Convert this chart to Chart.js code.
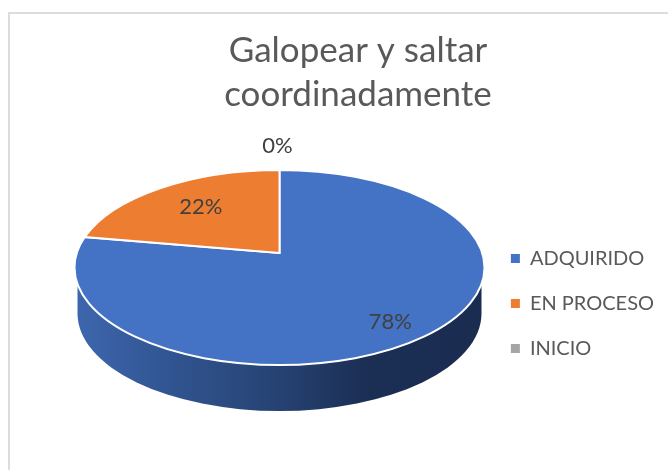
<!DOCTYPE html>
<html><head><meta charset="utf-8">
<script src="https://cdn.jsdelivr.net/npm/chart.js@4"></script>
<style>
html,body{margin:0;padding:0;background:#fff;overflow:hidden}
#wrap{position:relative;width:668px;height:470px}
#frame{position:absolute;left:8px;top:12px;right:0;bottom:0;border-left:2px solid #dcdcdc;border-top:2px solid #dcdcdc}
canvas{position:absolute;left:0;top:0}
</style></head><body>
<div id="wrap"><div id="frame"></div><canvas id="c" width="668" height="470"></canvas></div>
<script>
const categories = ["ADQUIRIDO", "EN PROCESO", "INICIO"];
const values = [78, 22, 0];
const sliceColors = ["#4472C4", "#ED7D31", "#A5A5A5"];
const titleLines = ["Galopear y saltar", "coordinadamente"];

// Picture geometry of the tilted disc (layout only)
const DISC = {cx:279.5, cy:267.5, rx:205, ry:97.5, apexY:253, depth:46, baseRx:202, kTop:0.43, kBottom:0.55};
// Where each percentage label sits, relative to the apex in units of rx
const LABEL_AT = [[0.54,0.335],[-0.384,-0.225],[-0.01,-0.52]];

function rimAngle(a){
  const d = DISC, c = Math.cos(a), s = Math.sin(a);
  const dx = c, dy = s * (s < 0 ? d.kTop : d.kBottom);
  const oy = d.apexY - d.cy;
  const A = dx*dx/(d.rx*d.rx) + dy*dy/(d.ry*d.ry);
  const B = 2*oy*dy/(d.ry*d.ry);
  const C = oy*oy/(d.ry*d.ry) - 1;
  const u = (-B + Math.sqrt(B*B - 4*A*C)) / (2*A);
  return Math.atan2((oy + u*dy)/d.ry, u*dx/d.rx);
}

const tiltedPie = {
  id:'tiltedPie',
  afterLayout(chart){
    // Legend sits lower than the default centring, beside the disc
    chart.legend.top += 54;
    chart.legend.bottom += 54;
  },
  beforeDatasetDraw(chart, args){
    const ctx = chart.ctx, d = DISC;
    ctx.save();
    const g = ctx.createLinearGradient(d.cx-d.baseRx,0,d.cx+d.baseRx,0);
    g.addColorStop(0,'#3D66AD');
    g.addColorStop(0.25,'#30538F');
    g.addColorStop(0.5,'#264272');
    g.addColorStop(0.72,'#1B2E54');
    g.addColorStop(1,'#1A2C50');
    ctx.fillStyle = g;
    ctx.beginPath();
    ctx.moveTo(d.cx-d.baseRx,d.cy);
    ctx.lineTo(d.cx-d.baseRx,d.cy+d.depth);
    ctx.ellipse(d.cx,d.cy+d.depth,d.baseRx,d.ry,0,Math.PI,0,true);
    ctx.lineTo(d.cx+d.baseRx,d.cy);
    ctx.closePath();
    ctx.fill();
    args.meta.data.forEach((arc,i)=>{
      if (arc.endAngle - arc.startAngle < 1e-4) return;
      ctx.beginPath();
      ctx.moveTo(d.cx,d.apexY);
      ctx.ellipse(d.cx,d.cy,d.rx,d.ry,0,rimAngle(arc.startAngle),rimAngle(arc.endAngle),false);
      ctx.closePath();
      ctx.fillStyle = sliceColors[i];
      ctx.fill();
      ctx.lineWidth = 2;
      ctx.strokeStyle = '#ffffff';
      ctx.stroke();
    });
    ctx.restore();
    return false;
  },
  afterDatasetsDraw(chart){
    const ctx = chart.ctx, d = DISC, total = values.reduce((a,b)=>a+b,0);
    ctx.save();
    ctx.font = '22px Lato';
    ctx.fillStyle = '#404040';
    ctx.textAlign = 'center';
    ctx.textBaseline = 'middle';
    values.forEach((v,i)=>{
      const p = LABEL_AT[i];
      ctx.fillText(Math.round(v/total*100)+'%', d.cx+p[0]*d.rx, d.apexY+p[1]*d.rx);
    });
    ctx.restore();
  }
};

new Chart(document.getElementById('c'),{
  type:'pie',
  data:{labels:categories,datasets:[{data:values,backgroundColor:sliceColors,borderColor:'#fff',borderWidth:2}]},
  plugins:[tiltedPie],
  options:{
    responsive:false,animation:false,
    layout:{padding:{top:29,right:4,bottom:0,left:52}},
    plugins:{
      tooltip:{enabled:false},
      title:{display:true,text:titleLines,color:'#595959',font:{family:'Lato',size:35,weight:'normal',lineHeight:1.26},padding:{top:0,bottom:0},align:'center'},
      legend:{position:'right',labels:{
        boxWidth:9,boxHeight:9,padding:25,color:'#595959',font:{family:'Lato',size:20},
        generateLabels(chart){
          return Chart.overrides.pie.plugins.legend.labels.generateLabels(chart).map(l=>Object.assign(l,{lineWidth:0,hidden:false}));
        }
      }}
    }
  }
});
</script>
</body></html>
